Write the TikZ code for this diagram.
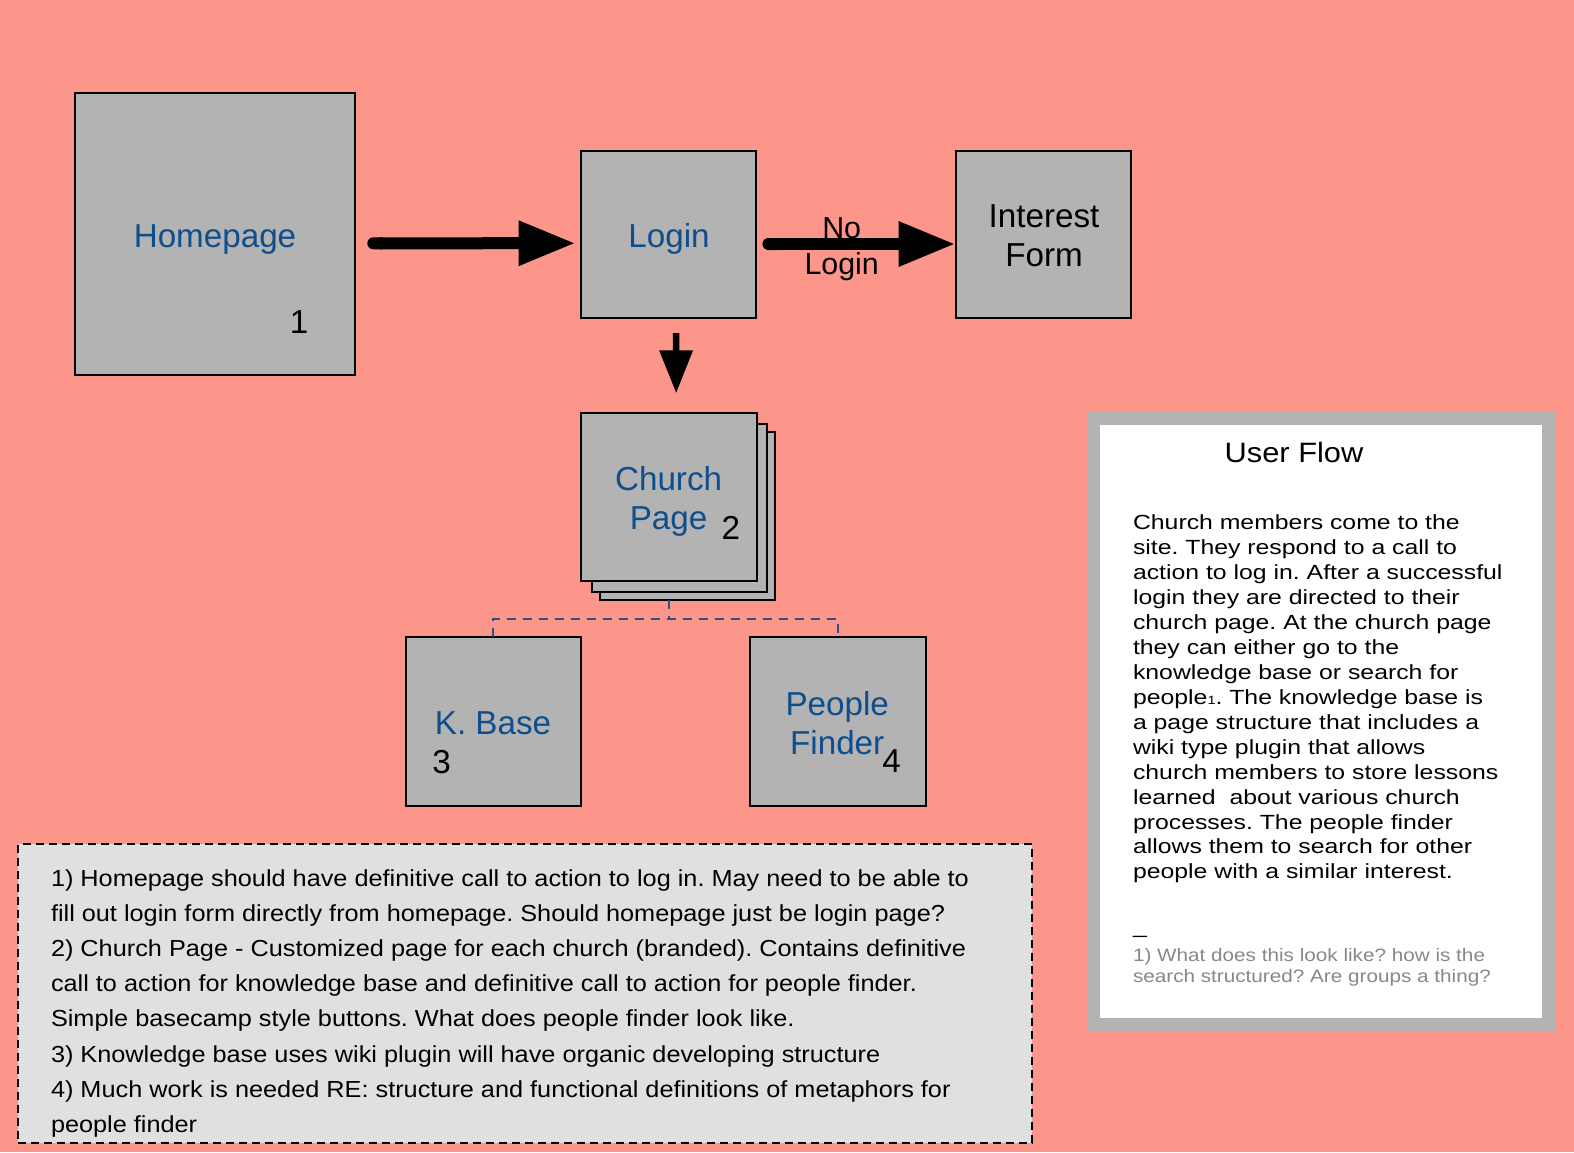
\documentclass[tikz,border=0pt]{standalone}
\usepackage{fontspec}
\setmainfont{Liberation Sans}
\newfontfamily\fbody[FakeStretch=1.21]{Liberation Sans}
\newfontfamily\fnotes[FakeStretch=1.09]{Liberation Sans}
\newfontfamily\ftitle[FakeStretch=1.1]{Liberation Sans}
\newfontfamily\ffoot[FakeStretch=1.15]{Liberation Sans}
\usetikzlibrary{arrows.meta,calc}
\definecolor{bgsalmon}{RGB}{252,150,138}
\definecolor{boxgray}{RGB}{179,179,179}
\definecolor{lblblue}{RGB}{14,78,140}
\definecolor{connblue}{RGB}{45,80,135}
\definecolor{notesgray}{RGB}{224,224,224}
\definecolor{footgray}{RGB}{136,136,136}
\frenchspacing
\begin{document}
\begin{tikzpicture}[x=0.5pt,y=-0.5pt,
  pagebox/.style={draw=black, line width=1pt, fill=boxgray, inner sep=0, outer sep=0, anchor=north west},
  lbl/.style={inner sep=0, outer sep=0, font=\fontsize{16.6}{19.2}\selectfont, text=lblblue, align=center},
  numlbl/.style={inner sep=0, outer sep=0, font=\fontsize{16.6}{19.2}\selectfont, text=black, anchor=base},
  fatarrow/.style={line width=6pt, {Round Cap[]}-{Triangle[length=28.5pt,width=21pt]}},
  downarrow/.style={line width=3.25pt, -{Triangle[length=21.5pt,width=16pt]}},
  conn/.style={draw=connblue, line width=1.1pt, dash pattern=on 4.5pt off 3.5pt},
  bodyline/.style={inner sep=0, outer sep=0, anchor=base west, font=\fbody\fontsize{10.25}{12.5}\selectfont},
  noteline/.style={inner sep=0, outer sep=0, anchor=base west, font=\fnotes\fontsize{11.6}{17.6}\selectfont},
  footline/.style={inner sep=0, outer sep=0, anchor=base west, text=footgray, font=\ffoot\fontsize{9}{10.5}\selectfont}
]
\useasboundingbox (0,0) rectangle (1574,1152);
\fill[bgsalmon] (0,0) rectangle (1574,1152);

% main pages
\node[pagebox, minimum width=140pt, minimum height=141pt] (home) at (75.3,93.4) {};
\node[pagebox, minimum width=87.5pt, minimum height=83.7pt] (login) at (581,150.6) {};
\node[pagebox, minimum width=87.85pt, minimum height=83.7pt] (interest) at (955.6,150.6) {};

% church page stack
\node[pagebox, minimum width=87.5pt, minimum height=84.3pt] (sheetC) at (600,431.6) {};
\node[pagebox, minimum width=87.5pt, minimum height=84.3pt] (sheetB) at (592.3,423.6) {};
\node[pagebox, minimum width=87.75pt, minimum height=84.2pt] (church) at (581,412.6) {};

\node[pagebox, minimum width=87.75pt, minimum height=84.3pt] (kbase) at (405.5,637.4) {};
\node[pagebox, minimum width=87.75pt, minimum height=84.3pt] (pf) at (750,637.4) {};

% labels
\node[lbl, anchor=base] (homelbl) at (215,247) {Homepage};
\node[numlbl] (n1) at (299,333) {1};
\node[lbl, anchor=base] (loginlbl) at (669,247.3) {Login};
\node[lbl, anchor=north, text=black] (intlbl) at (1044,204.8) {Interest\\Form};
\node[lbl, anchor=north] (churchlbl) at (668.6,466.8) {Church\\Page};
\node[numlbl] (n2) at (730.8,539) {2};
\node[lbl, anchor=base] (kblbl) at (493,734.5) {K. Base};
\node[numlbl] (n3) at (441.7,773) {3};
\node[lbl, anchor=north] (pflbl) at (837.2,691.7) {People\\Finder};
\node[numlbl] (n4) at (891.5,772) {4};

% arrows
\draw[fatarrow, shorten <=6pt, shorten >=2.7pt] ([yshift=-4.45pt]home.east) -- ([yshift=-4.45pt]login.west);
\draw[fatarrow, shorten <=3.2pt] ([yshift=-4.85pt]login.east) -- ([yshift=-4.85pt]interest.west);
\node[inner sep=0, outer sep=0, anchor=north, align=center, font=\fontsize{15.2}{18}\selectfont] (nologin) at (841.7,217.2) {No\\Login};
\draw[downarrow, shorten <=7.6pt, shorten >=9.65pt] ([xshift=3.75pt]login.south) -- ([xshift=3.75pt]church.north);

% dashed connectors
\coordinate (split) at (669.3,618.7);
\draw[conn] (split |- sheetC.south) -- (split);
\draw[conn] (kbase.north) |- (split) -| (pf.north);

% notes box
\node[draw=black, line width=1pt, dash pattern=on 4pt off 2.5pt, fill=notesgray, inner sep=0, outer sep=0, anchor=north west, minimum width=507pt, minimum height=149.25pt] (notes) at (18,844) {};
\foreach \t [count=\i] in {%
  {1) Homepage should have definitive call to action to log in. May need to be able to},
  {fill out login form directly from homepage. Should homepage just be login page?},
  {2) Church Page - Customized page for each church (branded). Contains definitive},
  {call to action for knowledge base and definitive call to action for people finder.},
  {Simple basecamp style buttons. What does people finder look like.},
  {3) Knowledge base uses wiki plugin will have organic developing structure},
  {4) Much work is needed RE: structure and functional definitions of metaphors for},
  {people finder}}
  \node[noteline] (note\i) at (51,{886+(\i-1)*35.24}) {\t};

% user flow box
\node[draw=boxgray, line width=6.5pt, fill=white, inner sep=0, outer sep=0, anchor=north west, minimum width=227.5pt, minimum height=303.25pt] (ufbox) at (1093.5,418) {};
\node[inner sep=0, outer sep=0, anchor=base, font=\ftitle\fontsize{14}{16}\selectfont] (uftitle) at (1294,462.5) {User Flow};
\foreach \t [count=\i] in {%
  {Church members come to the},
  {site. They respond to a call to},
  {action to log in. After a successful},
  {login they are directed to their},
  {church page. At the church page},
  {they can either go to the},
  {knowledge base or search for},
  {people{\fontsize{6}{6}\selectfont 1}. The knowledge base is},
  {a page structure that includes a},
  {wiki type plugin that allows},
  {church members to store lessons},
  {learned\ \ about various church},
  {processes. The people finder},
  {allows them to search for other},
  {people with a similar interest.}}
  \node[bodyline] (uf\i) at (1133,{529.5+(\i-1)*24.96}) {\t};
\node[bodyline] (ufsep) at (1133,933) {\_};
\node[footline] (foot1) at (1133,961.3) {1) What does this look like? how is the};
\node[footline] (foot2) at (1133,982.5) {search structured? Are groups a thing?};
\end{tikzpicture}
\end{document}
